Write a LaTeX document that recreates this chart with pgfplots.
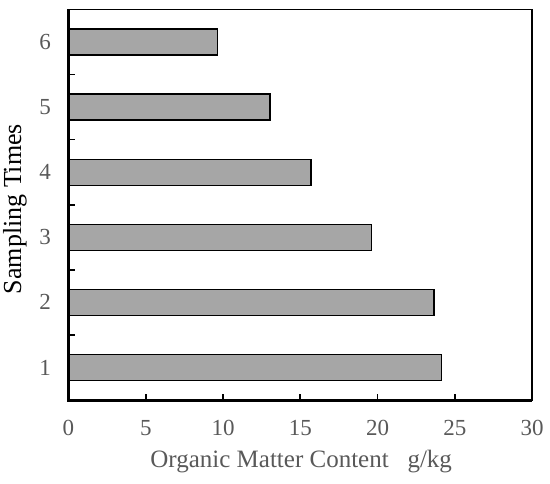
\documentclass[border=0pt]{standalone}
\usepackage{fontspec}
\setmainfont{Liberation Serif}
\usepackage{pgfplots}
\pgfplotsset{compat=1.18}
\usetikzlibrary{calc}
\definecolor{barfill}{HTML}{A6A6A6}
\definecolor{ticktext}{HTML}{595959}
\begin{document}
\begin{tikzpicture}
\begin{axis}[name=ax, scale only axis, width=463.5pt, height=390.5pt,
  /pgf/number format/assume math mode=true,
  xbar, bar width=0.4, xmin=0, xmax=30, ymin=0.5, ymax=6.5,
  xtick={0,5,...,30}, ytick={1,...,6},
  minor xtick={5,10,...,25}, minor ytick={1.5,2.5,...,5.5},
  tick align=inside, xtick pos=bottom, ytick pos=left,
  major tick length=0pt, minor tick length=6pt,
  minor tick style={line width=1.6pt, black},
  axis line style={line width=1.3pt},
  tick label style={font=\fontsize{23}{23}\selectfont, text=ticktext, inner sep=0pt},
  xticklabel style={anchor=base, yshift=-35pt},
  yticklabel style={anchor=east, xshift=-17.5pt},
  xlabel={Organic Matter Content\ \ \ g/kg},
  ylabel={Sampling Times},
  xlabel style={at={(axis description cs:0.502,-0.1716)}, anchor=base, font=\fontsize{25}{25}\selectfont, text=ticktext, inner sep=0pt},
  ylabel style={at={(axis description cs:-0.0895,0.489)}, anchor=south, font=\fontsize{26}{26}\selectfont, text=black, inner sep=0pt},
]
\addplot[fill=barfill, draw=black, line width=1.3pt] coordinates {(24.15,1) (23.66,2) (19.62,3) (15.70,4) (13.04,5) (9.66,6)};
\end{axis}
\draw[line width=3pt] (ax.north west) -- (ax.south west) -- (ax.south east);
\path ($(ax.south west)+(-68.5pt,-83pt)$) rectangle ($(ax.north east)+(18pt,9.5pt)$);
\end{tikzpicture}
\end{document}
